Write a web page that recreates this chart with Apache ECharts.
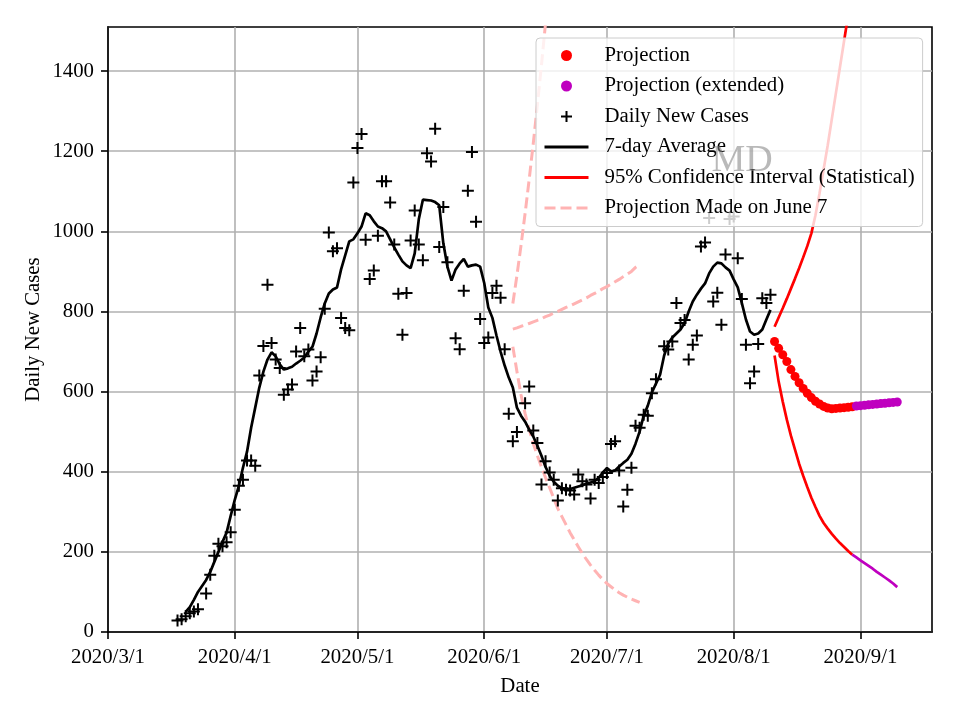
<!DOCTYPE html>
<html><head><meta charset="utf-8">
<script src="https://cdn.jsdelivr.net/npm/echarts@6/dist/echarts.min.js"></script>
<style>html,body{margin:0;padding:0;background:#fff}#c{width:960px;height:720px}</style>
</head><body><div id="c"></div>
<script>
// ---- tick labels ----
const xTickLabels = ['2020/3/1','2020/4/1','2020/5/1','2020/6/1','2020/7/1','2020/8/1','2020/9/1'];
const yTickValues = [0,200,400,600,800,1000,1200,1400];
const xStart = '2020/3/1';

// ---- daily new cases (day offset from 2020/3/1) ----
const caseDays = [17,18,19,20,21,22,24,25,26,27,28,29,30,31,32,33,34,35,36,37,38,39,40,41,42,43,44,45,46,47,48,49,50,51,52,53,54,55,56,57,58,59,60,61,62,63,64,65,66,67,68,69,70,71,72,73,74,75,76,77,78,79,80,81,82,83,85,86,87,88,89,90,91,92,93,94,95,96,97,98,99,100,102,103,104,105,106,107,108,109,110,111,112,113,114,115,116,117,118,119,120,121,122,123,124,125,126,127,128,129,130,131,132,133,134,136,137,138,139,140,141,142,143,144,145,146,147,148,149,150,151,152,153,154,155,156,157,158,159,160,161,162];
const caseValues = [29,32,39,47,51,57,96,143,190,220,214,224,249,305,365,380,428,428,415,640,714,867,721,680,659,592,605,618,700,759,688,705,628,650,686,807,997,950,958,784,759,753,1122,1208,1243,979,881,902,989,1125,1125,1072,967,844,742,846,977,1052,967,928,1195,1174,1256,961,1061,923,733,706,852,1101,1198,1024,781,721,735,846,864,834,706,545,476,499,571,613,503,472,368,426,398,380,328,359,355,353,343,393,376,368,333,380,372,387,397,469,476,403,313,355,410,515,510,542,540,596,631,713,705,725,821,771,779,680,717,740,962,972,1033,825,847,767,942,1031,1037,933,831,717,621,650,719,833,821,842];

// ---- 7-day average, from day 19 ----
const avgStartDay = 19;
const avgValues = [50,62,80,100,115,130,150,175,200,225,248,290,330,365,410,450,510,560,610,650,680,698,688,668,655,658,662,670,677,685,700,712,745,785,820,845,855,860,905,940,975,980,995,1012,1045,1040,1025,1012,1008,1000,980,960,942,925,915,908,945,1030,1079,1078,1077,1073,1065,970,912,877,905,920,931,912,915,917,912,871,810,784,740,700,665,635,610,560,540,525,505,488,465,440,412,390,375,365,359,357,357,360,363,366,370,373,376,385,398,409,401,403,413,422,430,445,470,500,540,565,598,620,642,690,720,735,745,755,771,800,825,842,857,870,895,912,922,920,910,902,880,860,821,780,750,742,745,755,780,804];

// ---- projection made on June 7, from day 99 ----
const june7StartDay = 99;
const june7Upper = [820,890,965,1045,1130,1220,1315,1415,1520,1630];
const june7Middle = [756,759,763,766,770,774,778,782,787,791,796,800,805,810,814,819,824,829,834,840,845,851,857,862,868,874,880,887,893,900,910,917];
const june7Lower = [712,650,592,545,505,470,440,412,385,360,334,308,288,268,248,230,213,196,181,167,154,142,131,121,113,105,98,92,87,82,78,74];

// ---- current projection, from day 163 ----
const projStartDay = 163;
const projValues = [725,708,692,675,655,638,622,608,596,585,576,569,563,559,557,558,559,560,561,562];
const projExtStartDay = 183;
const projExtValues = [564,565,566,567,568,569,570,571,572,573,574];
const ciUpper = [762,785,808,832,857,882,908,935,963,995,1040,1095,1155,1215,1280,1345,1410,1475,1540,1605];
const ciLower = [690,625,575,530,490,455,420,390,362,335,312,290,272,258,245,233,222,212,202,193];
const ciLowerExtStartDay = 182;
const ciLowerExt = [193,186,179,172,165,158,150,143,136,129,121,112];

// ---- helpers ----
function dayOf(label){
  const p = label.split('/').map(Number);
  const s = xStart.split('/').map(Number);
  return (Date.UTC(p[0],p[1]-1,p[2]) - Date.UTC(s[0],s[1]-1,s[2]))/86400000;
}
const xTickDays = xTickLabels.map(dayOf);
function seq(start, vals){ return vals.map((v,i)=>[start+i, v]); }
function pairs(days, vals){ return days.map((d,i)=>[d, vals[i]]); }

const FONT = 'Liberation Serif';
const FS = 20.8;
const PINK = '#ffb3b3';
const RED = '#ff0000';
const MAG = '#bf00bf';
const PLUS = 'path://M6,0L6,12M0,6L12,6';
const NOSYM = {color: 'rgba(0,0,0,0)', borderWidth: 0};

function lineSeries(name, data, color, width, dash, z){
  return {name: name, type: 'line', data: data, symbol: 'circle', symbolSize: 0, showSymbol: false,
    lineStyle: {color: color, width: width, type: dash || 'solid', opacity: 1}, itemStyle: NOSYM, z: z,
    emphasis: {disabled: true}};
}

const chart = echarts.init(document.getElementById('c'));
chart.setOption({
  animation: false,
  backgroundColor: '#fff',
  textStyle: {fontFamily: FONT},
  grid: {left: 108, right: 28, top: 27, bottom: 88, show: true, borderColor: '#000', borderWidth: 1.6, containLabel: false, outerBoundsMode: 'none'},
  xAxis: {
    type: 'value', min: 0, max: 201.5,
    name: 'Date', nameLocation: 'middle', nameGap: 44, nameMoveOverlap: false,
    nameTextStyle: {fontFamily: FONT, fontSize: FS, color: '#000'},
    axisLine: {show: true, lineStyle: {color: '#000', width: 1.6}},
    axisTick: {show: true, length: 7, lineStyle: {color: '#000', width: 1.6}, customValues: xTickDays},
    axisLabel: {customValues: xTickDays, margin: 15, fontFamily: FONT, fontSize: FS, color: '#000',
      formatter: v => { const i = xTickDays.indexOf(v); return i >= 0 ? xTickLabels[i] : ''; }},
    splitLine: {show: true, lineStyle: {color: '#b0b0b0', width: 1.6}}
  },
  yAxis: {
    type: 'value', min: 0, max: 1510,
    name: 'Daily New Cases', nameLocation: 'middle', nameGap: 64, nameMoveOverlap: false,
    nameTextStyle: {fontFamily: FONT, fontSize: FS, color: '#000'},
    axisLine: {show: true, lineStyle: {color: '#000', width: 1.6}},
    axisTick: {show: true, length: 7, lineStyle: {color: '#000', width: 1.6}, customValues: yTickValues},
    axisLabel: {customValues: yTickValues, margin: 14, fontFamily: FONT, fontSize: FS, color: '#000',
      formatter: v => String(v)},
    splitLine: {show: true, lineStyle: {color: '#b0b0b0', width: 1.6}}
  },
  legend: {
    orient: 'vertical', left: 536, top: 38,
    selectedMode: false,
    data: ['Projection','Projection (extended)','Daily New Cases','7-day Average','95% Confidence Interval (Statistical)','Projection Made on June 7'],
    itemWidth: 44, itemHeight: 11, itemGap: 5.5,
    textStyle: {fontFamily: FONT, fontSize: FS, color: '#000', lineHeight: 25, padding: [0,0,0,11]},
    lineStyle: {width: 3},
    backgroundColor: 'rgba(255,255,255,0.8)', borderColor: '#cccccc', borderWidth: 1, borderRadius: 4,
    padding: [5, 8, 6, 7], z: 6
  },
  graphic: [{
    type: 'text', x: 742, y: 161, z: 20, silent: true,
    style: {text: 'MD', font: '38px "Liberation Serif"', fill: 'rgba(128,128,128,0.55)', align: 'center', verticalAlign: 'middle'}
  }],
  series: [
    {name: 'Daily New Cases', type: 'scatter', data: pairs(caseDays, caseValues), symbol: PLUS, symbolSize: 12,
      itemStyle: {color: 'rgba(0,0,0,0)', borderColor: '#000', borderWidth: 2, opacity: 1}, z: 3, emphasis: {disabled: true}},
    lineSeries('7-day Average', seq(avgStartDay, avgValues), '#000', 2.7, null, 4),
    lineSeries('Projection Made on June 7', seq(june7StartDay, june7Upper), PINK, 3, [11, 5], 2),
    lineSeries('Projection Made on June 7', seq(june7StartDay, june7Middle), PINK, 3, [11, 5], 2),
    lineSeries('Projection Made on June 7', seq(june7StartDay, june7Lower), PINK, 3, [11, 5], 2),
    lineSeries('95% Confidence Interval (Statistical)', seq(projStartDay, ciUpper), RED, 2.7, null, 4),
    lineSeries('95% Confidence Interval (Statistical)', seq(projStartDay, ciLower), RED, 2.7, null, 4),
    lineSeries('CI extended', seq(ciLowerExtStartDay, ciLowerExt), MAG, 2.7, null, 4),
    {name: 'Projection', type: 'scatter', data: seq(projStartDay, projValues), symbol: 'circle', symbolSize: 9,
      itemStyle: {color: RED, opacity: 1}, z: 5, emphasis: {disabled: true}},
    {name: 'Projection (extended)', type: 'scatter', data: seq(projExtStartDay, projExtValues), symbol: 'circle', symbolSize: 9,
      itemStyle: {color: MAG, opacity: 1}, z: 5, emphasis: {disabled: true}}
  ]
});
</script></body></html>
